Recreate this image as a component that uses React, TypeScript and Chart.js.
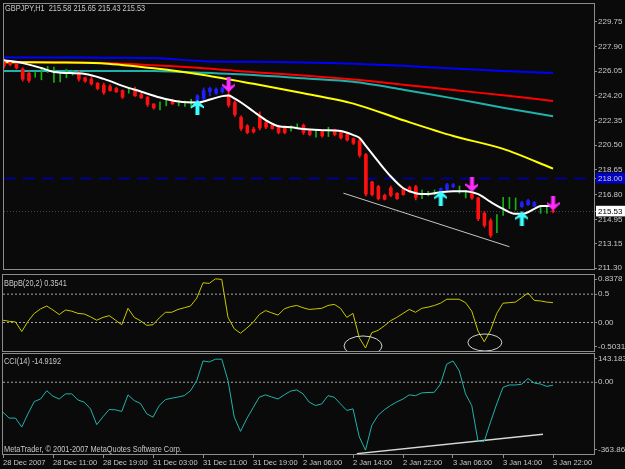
import React, { useEffect, useRef } from "react";
import { Chart, registerables } from "chart.js";

Chart.register(...registerables);

const FONT_FAMILY = "'Liberation Sans', Arial, sans-serif";
const TEXT = "#c8c8c8";
const BG = "#0a0a0a";
const FRAME = "#8c8c8c";
const X_MAX = 94.56;

// ---------- time axis ----------
const timeTickIndex = [0, 8, 16, 24, 32, 40, 48, 56, 64, 72, 80, 88];
const timeTickLabels = [
  "28 Dec 2007", "28 Dec 11:00", "28 Dec 19:00", "31 Dec 03:00", "31 Dec 11:00", "31 Dec 19:00",
  "2 Jan 06:00", "2 Jan 14:00", "2 Jan 22:00", "3 Jan 06:00", "3 Jan 14:00", "3 Jan 22:00",
];

// ---------- price bars (GBPJPY H1) ----------
const barOpen = [
  226.85, 226.70, 226.60, 226.20, 225.90, 225.70, 225.60, 226.00, 225.80, 225.50,
  225.80, 225.85, 225.95, 225.55, 225.45, 225.15, 225.00, 224.90, 224.75, 224.60,
  224.45, 224.70, 224.30, 224.10, 223.60, 223.30, 223.60, 223.85, 223.55, 223.60,
  223.50, 223.80, 224.00, 224.50, 224.40, 224.50, 224.30, 223.70, 222.60, 221.95,
  221.70, 222.70, 222.20, 222.00, 221.95, 221.80, 221.60, 221.85, 222.00, 221.55,
  221.35, 221.50, 221.25, 221.65, 221.45, 221.30, 221.00, 220.85, 219.80, 217.75,
  217.40, 216.75, 217.30, 216.90, 217.20, 217.35, 217.40, 216.60, 216.85, 216.90,
  217.00, 217.20, 217.40, 217.10, 216.70, 216.95, 216.55, 215.40, 214.85, 214.20,
  215.30, 216.00, 215.80, 215.90, 216.05, 215.95, 215.50, 215.50, 215.58,
];
const barHigh = [
  226.95, 226.85, 226.70, 226.30, 226.00, 225.95, 226.30, 226.40, 226.35, 225.90,
  226.20, 226.10, 226.05, 225.60, 225.60, 225.20, 225.15, 225.05, 224.85, 224.65,
  224.75, 224.85, 224.40, 224.15, 223.60, 223.75, 223.90, 223.95, 223.85, 223.80,
  223.95, 224.30, 224.80, 224.85, 224.80, 224.85, 224.75, 223.85, 222.70, 222.05,
  221.85, 223.00, 222.30, 222.10, 222.00, 221.95, 221.95, 222.10, 222.10, 221.65,
  221.70, 221.55, 221.85, 221.70, 221.55, 221.45, 221.05, 220.95, 219.90, 217.80,
  217.50, 216.85, 217.45, 216.95, 217.30, 217.45, 217.50, 217.15, 217.05, 217.15,
  217.30, 217.65, 217.65, 217.45, 217.10, 217.00, 216.60, 215.55, 215.00, 215.30,
  216.60, 216.60, 216.55, 216.30, 216.45, 216.30, 215.85, 215.85, 215.65,
];
const barLow = [
  226.30, 226.45, 226.20, 225.30, 225.20, 225.60, 225.40, 225.95, 225.20, 225.25,
  225.55, 225.75, 225.30, 225.20, 225.00, 224.65, 224.30, 224.55, 224.45, 224.00,
  224.40, 224.15, 224.00, 223.40, 223.20, 223.15, 223.45, 223.55, 223.45, 223.40,
  223.30, 223.75, 223.90, 224.20, 224.30, 224.40, 223.35, 222.65, 221.60, 221.35,
  221.40, 221.65, 221.75, 221.70, 221.35, 221.35, 221.55, 221.80, 221.30, 221.20,
  221.10, 221.10, 221.15, 221.20, 220.95, 220.80, 220.55, 219.60, 216.70, 216.70,
  216.40, 216.40, 216.65, 216.45, 216.75, 216.95, 216.40, 216.50, 216.70, 216.80,
  216.90, 217.10, 217.30, 216.90, 216.55, 216.45, 214.85, 214.35, 213.60, 213.95,
  215.25, 215.75, 215.65, 215.85, 216.00, 215.90, 215.40, 215.40, 215.43,
];
const barClose = [
  226.45, 226.55, 226.30, 225.45, 225.35, 225.85, 226.00, 226.20, 226.00, 225.75,
  226.05, 226.00, 225.45, 225.30, 225.10, 224.75, 224.45, 224.60, 224.50, 224.10,
  224.70, 224.20, 224.05, 223.55, 223.30, 223.65, 223.80, 223.60, 223.75, 223.70,
  223.85, 224.20, 224.60, 224.75, 224.70, 224.80, 223.50, 222.80, 221.75, 221.45,
  221.50, 221.80, 221.85, 221.75, 221.45, 221.45, 221.85, 222.00, 221.45, 221.30,
  221.55, 221.20, 221.60, 221.30, 221.05, 220.90, 220.65, 219.75, 216.85, 216.80,
  216.50, 216.45, 216.75, 216.50, 216.80, 217.05, 216.60, 216.95, 216.95, 217.05,
  217.25, 217.55, 217.55, 217.35, 216.95, 216.55, 215.00, 214.50, 213.75, 215.20,
  216.40, 216.40, 216.30, 216.20, 216.35, 216.20, 215.75, 215.70, 215.53,
];
// r = down bar, g = up bar, b = up bar (signal colour)
const barKind = (
  "rrrrr" + "ggggggg" + "rrrrrrrr" + "g" + "rrrr" + "gg" + "r" + "ggg" + "bbbbb" +
  "rrrrrrrrrr" + "gg" + "rr" + "g" + "r" + "g" + "rrrrrrrrrrrrrr" + "ggg" + "bbb" +
  "gg" + "rrrr" + "gggg" + "bbb" + "gg" + "r"
).split("");

// ---------- moving averages ----------
const maSampleIdx = [0, 8, 16, 24, 32, 40, 48, 56, 64, 72, 80, 88];
const maBlue = [227.07, 227.07, 227.06, 227.03, 226.80, 226.75, 226.70, 226.61, 226.45, 226.24, 226.06, 225.91];
const maRed = [226.72, 226.70, 226.66, 226.49, 226.27, 225.97, 225.73, 225.42, 225.03, 224.64, 224.24, 223.82];
const maTeal = [226.06, 226.06, 226.06, 226.06, 225.93, 225.76, 225.51, 225.25, 224.66, 224.01, 223.31, 222.67];
const maYellow = [226.72, 226.70, 226.63, 226.26, 225.76, 225.10, 224.40, 223.62, 222.37, 221.19, 220.23, 218.75];

const whiteIdx = [0, 3, 6, 8, 13, 16, 19, 22, 25, 28, 31, 33, 35, 36, 37, 38, 40, 42, 44, 46, 48, 51, 54, 56, 57, 58, 60, 62, 64, 66, 68, 70, 72, 74, 76, 78, 80, 82, 83, 85, 86, 88];
const whiteVal = [226.87, 226.65, 226.28, 225.99, 225.84, 225.47, 224.95, 224.51, 224.07, 223.77, 223.70, 223.92, 224.18, 224.22, 223.99, 223.70, 223.03, 222.37, 221.93, 221.85, 221.71, 221.63, 221.56, 221.26, 221.04, 220.45, 219.27, 218.16, 217.28, 216.91, 216.84, 216.98, 217.06, 217.06, 216.84, 216.25, 215.73, 215.36, 215.36, 215.73, 215.95, 215.95];

// ---------- signals ----------
const arrowUpIdx = [31, 70, 83];
const arrowUpVal = [223.33, 216.54, 214.99];
const arrowDownIdx = [36, 75, 88];
const arrowDownVal = [225.03, 217.57, 216.17];

const priceTrendIdx = [54.4, 81];
const priceTrendVal = [216.91, 212.9];

const priceTicks = [229.75, 227.9, 226.05, 224.2, 222.35, 220.5, 218.65, 216.8, 214.95, 213.15, 211.3];
const alertLevel = 218.0;
const lastPrice = 215.53;

// ---------- BBpB(20,2) ----------
const bbValues = [
  0.04, 0.02, 0.01, -0.16, 0.02, 0.16, 0.24, 0.29, 0.22, 0.14,
  0.22, 0.20, 0.16, 0.15, 0.10, 0.04, 0.09, 0.12, 0.04, -0.04,
  0.25, 0.09, 0.03, -0.05, -0.04, 0.08, 0.18, 0.18, 0.23, 0.26,
  0.29, 0.43, 0.70, 0.69, 0.77, 0.76, 0.09, -0.11, -0.19, -0.10,
  0.00, 0.14, 0.21, 0.17, 0.13, 0.24, 0.28, 0.30, 0.26, 0.23,
  0.24, 0.25, 0.30, 0.32, 0.25, 0.09, 0.16, -0.27, -0.45, -0.18,
  -0.14, -0.06, 0.03, 0.09, 0.16, 0.23, 0.18, 0.25, 0.27, 0.30,
  0.34, 0.41, 0.41, 0.41, 0.35, 0.20, -0.15, -0.34, -0.14, 0.16,
  0.34, 0.35, 0.36, 0.44, 0.52, 0.39, 0.38, 0.36, 0.35,
];
const bbMax = 0.8378;
const bbMin = -0.5031;
const bbLevels = [0.5, 0];
const bbTickValues = [0.8378, 0.5, 0, -0.5031];
const bbTickLabels = ["0.8378", "0.5", "0.00", "-0.5031"];

// ---------- CCI(14) ----------
const cciValues = [
  -152, -182, -182, -227, -160, -98, -85, -43, -71, -85,
  -59, -59, -90, -101, -135, -215, -175, -138, -140, -148,
  -64, -93, -108, -160, -177, -118, -88, -81, -75, -68,
  -43, 8, 108, 103, 117, 117, 8, -177, -249, -185,
  -130, -76, -64, -75, -85, -64, -45, -39, -59, -101,
  -118, -110, -68, -76, -110, -143, -135, -277, -344, -219,
  -168, -140, -118, -100, -85, -64, -68, -54, -52, -51,
  -9, 92, 108, 58, -59, -118, -299, -299, -202, -110,
  -26, -14, -14, -10, 19, -4, -9, -21, -15,
];
const cciMax = 143.1834;
const cciMin = -363.862;
const cciTickValues = [143.1834, 0, -363.862];
const cciTickLabels = ["143.1834", "0.00", "-363.862"];
const cciTrendIdx = [56.6, 86.4];
const cciTrendVal = [-362, -264];

// ---------- helpers ----------
const pts = (idx: number[], vals: number[]) => idx.map((x, k) => ({ x, y: vals[k] }));
const seq = (vals: number[]) => vals.map((y, x) => ({ x, y }));
const hLine = (v: number) => [{ x: 0, y: v }, { x: X_MAX, y: v }];
const KIND_COLOR: Record<string, string> = { r: "#ff1010", g: "#14b014", b: "#2020ff" };

function makeArrow(color: string, up: boolean) {
  const c = document.createElement("canvas");
  c.width = 13;
  c.height = 15;
  const g = c.getContext("2d")!;
  const p = [[6.5, 0], [13, 6.5], [13, 8.5], [8.5, 6], [8.5, 15], [4.5, 15], [4.5, 6], [0, 8.5], [0, 6.5]];
  g.fillStyle = color;
  g.beginPath();
  p.forEach(([x, y], k) => {
    const yy = up ? y : 15 - y;
    if (k) g.lineTo(x, yy);
    else g.moveTo(x, yy);
  });
  g.closePath();
  g.fill();
  return c;
}

const yFont = { family: FONT_FAMILY, size: 8 };
const xFont = { family: FONT_FAMILY, size: 7.5 };

const framePlugin = {
  id: "mtFrame",
  beforeDraw(chart: any) {
    const { ctx, width, height } = chart;
    ctx.save();
    ctx.fillStyle = BG;
    ctx.fillRect(0, 0, width, height);
    ctx.restore();
  },
  afterDraw(chart: any) {
    const a = chart.chartArea;
    const ctx = chart.ctx;
    ctx.save();
    ctx.strokeStyle = FRAME;
    ctx.lineWidth = 1;
    ctx.strokeRect(a.left - 0.5, a.top - 0.5, a.right - a.left + 1, a.bottom - a.top + 1);
    ctx.restore();
  },
};

function xAxis(display: boolean) {
  return {
    type: "linear",
    min: 0,
    max: X_MAX,
    offset: false,
    display,
    afterBuildTicks: (s: any) => {
      s.ticks = timeTickIndex.map((v) => ({ value: v }));
    },
    afterFit: (s: any) => {
      s.height = display ? 15 : 0;
      s.paddingLeft = 0;
      s.paddingRight = 0;
    },
    grid: { drawOnChartArea: false, drawTicks: true, tickLength: 4, tickColor: FRAME },
    border: { display: true, color: FRAME },
    ticks: {
      autoSkip: false,
      maxRotation: 0,
      minRotation: 0,
      align: "start",
      padding: 0,
      color: TEXT,
      font: xFont,
      callback: (_v: any, i: number) => timeTickLabels[i],
    },
  };
}

function yAxis(min: number, max: number, values: number[], label: (v: number, i: number) => string, extraTicks: any = {}) {
  return {
    type: "linear",
    position: "right",
    min,
    max,
    afterBuildTicks: (s: any) => {
      s.ticks = values.map((v) => ({ value: v }));
    },
    afterFit: (s: any) => {
      s.width = 31;
      s.paddingTop = 0;
      s.paddingBottom = 0;
    },
    grid: { drawOnChartArea: false, drawTicks: true, tickLength: 3, tickColor: FRAME },
    border: { display: true, color: FRAME },
    ticks: {
      autoSkip: false,
      padding: 1,
      color: TEXT,
      font: yFont,
      callback: (v: number, i: number) => label(v, i),
      ...extraTicks,
    },
  };
}

const baseOptions = (padding: any) => ({
  responsive: false,
  maintainAspectRatio: false,
  animation: false,
  devicePixelRatio: 1,
  events: [],
  layout: { padding },
  plugins: { legend: { display: false }, tooltip: { enabled: false }, title: { display: false } },
});

const line = (data: any[], color: string, width: number, extra: any = {}) => ({
  type: "line",
  data,
  borderColor: color,
  borderWidth: width,
  pointRadius: 0,
  fill: false,
  tension: 0,
  ...extra,
});

export default function App() {
  const mainRef = useRef<HTMLCanvasElement>(null);
  const bbRef = useRef<HTMLCanvasElement>(null);
  const cciRef = useRef<HTMLCanvasElement>(null);

  useEffect(() => {
    const charts: any[] = [];
    const upImg = makeArrow("#3cffff", true);
    const downImg = makeArrow("#ff2cff", false);

    const allIdx = barOpen.map((_, i) => i);
    const bodyIdx = allIdx.filter((i) => barKind[i] !== "g");
    const markerTicks = [...priceTicks, alertLevel, lastPrice];

    // ---------- main price chart ----------
    charts.push(
      new Chart(mainRef.current!, {
        type: "line",
        data: {
          datasets: [
            {
              type: "scatter",
              data: pts(arrowUpIdx, arrowUpVal),
              pointStyle: upImg,
              pointRadius: 1,
              pointBorderWidth: 0,
              showLine: false,
              order: 0,
            },
            {
              type: "scatter",
              data: pts(arrowDownIdx, arrowDownVal),
              pointStyle: downImg,
              pointRadius: 1,
              pointBorderWidth: 0,
              showLine: false,
              order: 0,
            },
            line(pts(whiteIdx, whiteVal), "#ffffff", 2, { tension: 0.4, cubicInterpolationMode: "monotone", order: 1 }),
            line(pts(priceTrendIdx, priceTrendVal), "#c4c4c4", 1, { order: 1 }),
            {
              type: "bar",
              data: bodyIdx.map((i) => ({ x: i, y: [barOpen[i], barClose[i]] })),
              backgroundColor: bodyIdx.map((i) => KIND_COLOR[barKind[i]]),
              barThickness: 3,
              grouped: false,
              borderWidth: 0,
              order: 2,
            },
            {
              type: "bar",
              data: allIdx.map((i) => ({ x: i, y: [barLow[i], barHigh[i]] })),
              backgroundColor: allIdx.map((i) => KIND_COLOR[barKind[i]]),
              barThickness: 1,
              grouped: false,
              borderWidth: 0,
              order: 3,
            },
            line(pts(maSampleIdx, maYellow), "#ffff00", 2, { tension: 0.3, order: 4 }),
            line(pts(maSampleIdx, maTeal), "#20b2aa", 2, { tension: 0.3, order: 4 }),
            line(pts(maSampleIdx, maRed), "#ff0000", 2, { tension: 0.3, order: 4 }),
            line(pts(maSampleIdx, maBlue), "#0000ff", 2, { tension: 0.3, order: 4 }),
            line(hLine(alertLevel), "#00008c", 2, { borderDash: [12, 7], order: 5 }),
            line(hLine(lastPrice), "#4a4a4a", 1, { borderDash: [1, 2], order: 5 }),
          ],
        },
        options: {
          ...baseOptions({ left: 3, top: 3, right: 0, bottom: 1 }),
          scales: {
            x: xAxis(false),
            y: yAxis(211.23, 231.08, markerTicks, (v) => Number(v).toFixed(2), {
              showLabelBackdrop: (c: any) => !!c.tick && (c.tick.value === alertLevel || c.tick.value === lastPrice),
              backdropColor: (c: any) => (c.tick && c.tick.value === alertLevel ? "#0000c8" : "#ffffff"),
              backdropPadding: { top: 1, bottom: 0, left: 2, right: 3 },
              color: (c: any) => (c.tick && c.tick.value === lastPrice ? "#000000" : TEXT),
            }),
          },
        } as any,
        plugins: [framePlugin],
      } as any)
    );

    // ---------- BBpB panel ----------
    const bbInset = (bbMax - bbMin) * 0.055;
    const bbTickPos = bbTickValues.map((v) => (v === bbMax ? v - bbInset : v === bbMin ? v + bbInset : v));
    const ellipses = [
      { i: 57.6, v: -0.414, ri: 3.04, rv: 0.176 },
      { i: 77.1, v: -0.353, ri: 2.72, rv: 0.15 },
    ];
    const ellipsePlugin = {
      id: "ellipses",
      afterDatasetsDraw(chart: any) {
        const xs = chart.scales.x;
        const ys = chart.scales.y;
        const ctx = chart.ctx;
        ctx.save();
        ctx.strokeStyle = "#d2d2d2";
        ctx.lineWidth = 1;
        ellipses.forEach((e) => {
          const cx = xs.getPixelForValue(e.i);
          const cy = ys.getPixelForValue(e.v);
          const rx = Math.abs(xs.getPixelForValue(e.i + e.ri) - cx);
          const ry = Math.abs(ys.getPixelForValue(e.v + e.rv) - cy);
          ctx.beginPath();
          ctx.ellipse(cx, cy, rx, ry, 0, 0, Math.PI * 2);
          ctx.stroke();
        });
        ctx.restore();
      },
    };
    charts.push(
      new Chart(bbRef.current!, {
        type: "line",
        data: {
          datasets: [
            line(seq(bbValues), "#c8c800", 1, { order: 0 }),
            ...bbLevels.map((lv) => line(hLine(lv), "#a8a8a8", 1, { borderDash: [2, 2], order: 1 })),
          ],
        },
        options: {
          ...baseOptions({ left: 3, top: 2, right: 0, bottom: 1 }),
          scales: {
            x: xAxis(false),
            y: yAxis(bbMin, bbMax, bbTickPos, (_v, i) => bbTickLabels[i]),
          },
        } as any,
        plugins: [framePlugin, ellipsePlugin],
      } as any)
    );

    // ---------- CCI panel ----------
    const cciInset = (cciMax - cciMin) * 0.045;
    const cciTickPos = cciTickValues.map((v) => (v === cciMax ? v - cciInset : v === cciMin ? v + cciInset : v));
    charts.push(
      new Chart(cciRef.current!, {
        type: "line",
        data: {
          datasets: [
            line(seq(cciValues), "#20b2aa", 1, { order: 0 }),
            line(pts(cciTrendIdx, cciTrendVal), "#d8d8d8", 1.5, { order: 1 }),
            line(hLine(0), "#a8a8a8", 1, { borderDash: [2, 2], order: 2 }),
          ],
        },
        options: {
          ...baseOptions({ left: 3, top: 2, right: 0, bottom: 0 }),
          scales: {
            x: xAxis(true),
            y: yAxis(cciMin, cciMax, cciTickPos, (_v, i) => cciTickLabels[i]),
          },
        } as any,
        plugins: [framePlugin],
      } as any)
    );

    return () => charts.forEach((c) => c.destroy());
  }, []);

  const txt = (left: number, top: number): React.CSSProperties => ({
    position: "absolute",
    left,
    top,
    font: `9px ${FONT_FAMILY}`,
    color: TEXT,
    whiteSpace: "pre",
    lineHeight: "10px",
    pointerEvents: "none",
    transform: "scaleX(0.82)",
    transformOrigin: "0 0",
  });

  return (
    <div style={{ position: "fixed", left: 0, top: 0, width: 625, height: 469, background: BG, overflow: "hidden" }}>
      <canvas ref={mainRef} width={625} height={273} style={{ position: "absolute", left: 0, top: 0 }} />
      <canvas ref={bbRef} width={625} height={79} style={{ position: "absolute", left: 0, top: 273 }} />
      <canvas ref={cciRef} width={625} height={117} style={{ position: "absolute", left: 0, top: 352 }} />
      <div style={txt(5, 3)}>GBPJPY,H1  215.58 215.65 215.43 215.53</div>
      <div style={txt(4, 278)}>BBpB(20,2) 0.3541</div>
      <div style={txt(4, 356)}>CCI(14) -14.9192</div>
      <div style={txt(4, 444)}>MetaTrader, © 2001-2007 MetaQuotes Software Corp.</div>
    </div>
  );
}
